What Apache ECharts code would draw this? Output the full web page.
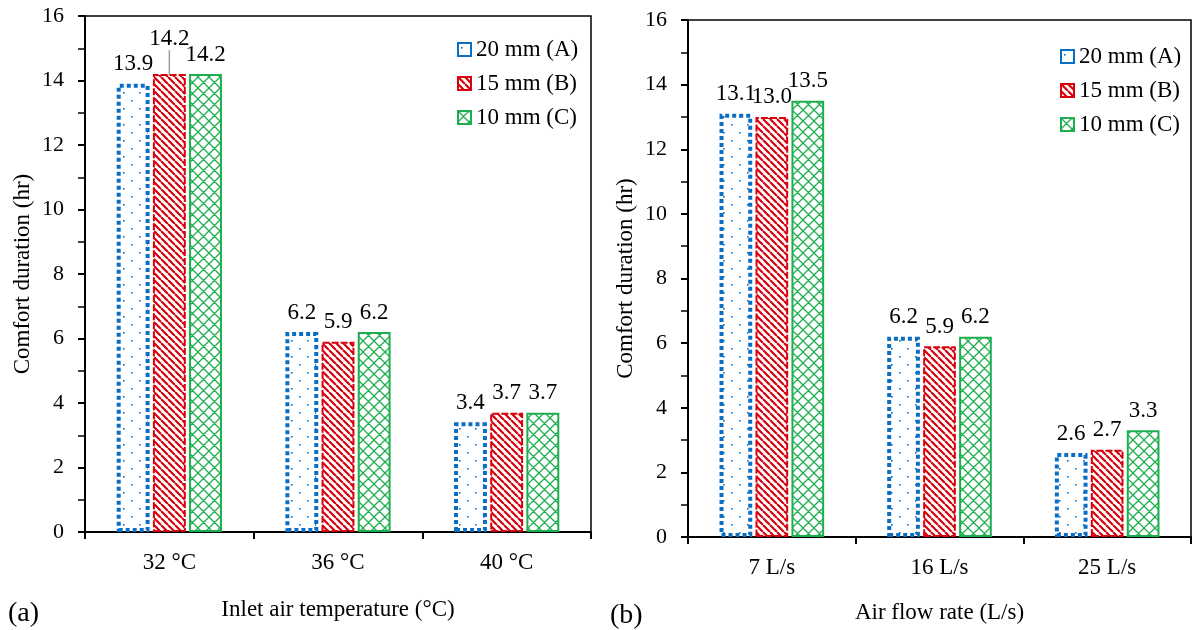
<!DOCTYPE html>
<html>
<head>
<meta charset="utf-8">
<script src="https://cdn.jsdelivr.net/npm/echarts@6/dist/echarts.min.js"></script>
<style>
  html, body { margin: 0; padding: 0; background: #fff; }
  #chart { width: 1195px; height: 630px; }
</style>
</head>
<body>
<div id="chart"></div>
<script>
// data
var tempCats = ['32 °C', '36 °C', '40 °C'];
var flowCats = ['7 L/s', '16 L/s', '25 L/s'];
var seriesNames = ['20 mm (A)', '15 mm (B)', '10 mm (C)'];
var tempA = [13.9, 6.2, 3.4];
var tempB = [14.2, 5.9, 3.7];
var tempC = [14.2, 6.2, 3.7];
var flowA = [13.1, 6.2, 2.6];
var flowB = [13.0, 5.9, 2.7];
var flowC = [13.5, 6.2, 3.3];

var FONT = '"Liberation Serif", "Times New Roman", serif';
var BLUE = '#0a6fc4', RED = '#d8000c', GREEN = '#1fae4f';

// fill patterns
function makeTile(size, draw) {
    var c = document.createElement('canvas');
    c.width = size; c.height = size;
    var ctx = c.getContext('2d');
    ctx.fillStyle = '#fff';
    ctx.fillRect(0, 0, size, size);
    draw(ctx, size);
    return c;
}
var dotTile = makeTile(16, function (ctx) {
    ctx.fillStyle = BLUE;
    ctx.fillRect(3, 4, 1.6, 1.6);
    ctx.fillRect(11, 12, 1.6, 1.6);
});
var hatchTile = makeTile(7, function (ctx, s) {
    ctx.strokeStyle = RED;
    ctx.lineWidth = 2.2;
    ctx.beginPath();
    for (var i = -s; i <= s; i += s) {
        ctx.moveTo(i, 0);
        ctx.lineTo(i + s, s);
    }
    ctx.stroke();
});
var crossTile = makeTile(11, function (ctx, s) {
    ctx.strokeStyle = GREEN;
    ctx.lineWidth = 1.3;
    ctx.beginPath();
    for (var i = -s; i <= s; i += s) {
        ctx.moveTo(i, 0); ctx.lineTo(i + s, s);
        ctx.moveTo(i + s, 0); ctx.lineTo(i, s);
    }
    ctx.stroke();
});

var styles = [
    { color: { image: dotTile, repeat: 'repeat' }, borderColor: BLUE, borderWidth: 4, borderType: [4, 3] },
    { color: { image: hatchTile, repeat: 'repeat' }, borderColor: RED, borderWidth: 2, borderType: [7, 2] },
    { color: { image: crossTile, repeat: 'repeat' }, borderColor: GREEN, borderWidth: 2, borderType: 'solid' }
];

function yAxis(gridIndex) {
    return {
        type: 'value', gridIndex: gridIndex, min: 0, max: 16, interval: 2,
        name: 'Comfort duration (hr)', nameLocation: 'middle', nameGap: 51,
        nameTextStyle: { fontFamily: FONT, fontSize: 23, color: '#000' },
        axisLine: { show: true, lineStyle: { color: '#000', width: 2 } },
        axisTick: { show: true, inside: false, length: 7, lineStyle: { color: '#000', width: 2 } },
        minorTick: { show: true, splitNumber: 2, length: 7, lineStyle: { color: '#000', width: 1.5 } },
        axisLabel: { margin: 21, fontFamily: FONT, fontSize: 22, color: '#000' },
        splitLine: { show: false }
    };
}
function xAxis(gridIndex, cats, name, gap) {
    return {
        type: 'category', gridIndex: gridIndex, data: cats,
        name: name, nameLocation: 'middle', nameGap: gap,
        nameTextStyle: { fontFamily: FONT, fontSize: 23, color: '#000' },
        axisLine: { lineStyle: { color: '#000', width: 2 } },
        axisTick: { show: true, length: 7, lineStyle: { color: '#000', width: 2 } },
        axisLabel: { margin: 19, fontFamily: FONT, fontSize: 23, color: '#000' }
    };
}
function barSeries(name, data, idx, gridIdx) {
    return {
        name: name, type: 'bar', xAxisIndex: gridIdx, yAxisIndex: gridIdx,
        data: data, barWidth: '19.5%', barGap: '10%',
        itemStyle: styles[idx],
        label: {
            show: true, position: 'top', distance: 8,
            fontFamily: FONT, fontSize: 23, color: '#000',
            formatter: function (p) { return p.value.toFixed(1); }
        },
        labelLine: { show: false, lineStyle: { color: '#a0a0a0', width: 1.5 } }
    };
}
function legend(left, top) {
    return {
        orient: 'vertical', left: left, top: top, itemGap: 11,
        itemWidth: 13, itemHeight: 13, icon: 'rect',
        textStyle: { fontFamily: FONT, fontSize: 23, color: '#000' },
        data: seriesNames
    };
}

// raised label with leader line on the 15 mm bar at 32 °C
var tempBData = tempB.map(function (v, i) {
    if (i === 0) {
        return { value: v, labelLine: { show: true } };
    }
    return v;
});

var myChart = echarts.init(document.getElementById('chart'));
var option = {
    backgroundColor: '#fff',
    animation: false,
    grid: [
        { left: 85, top: 16, width: 506, height: 516, show: true, borderColor: '#000', borderWidth: 1.5, backgroundColor: 'transparent' },
        { left: 688, top: 20, width: 503, height: 517, show: true, borderColor: '#000', borderWidth: 1.5, backgroundColor: 'transparent' }
    ],
    xAxis: [
        xAxis(0, tempCats, 'Inlet air temperature (°C)', 66),
        xAxis(1, flowCats, 'Air flow rate (L/s)', 64)
    ],
    yAxis: [yAxis(0), yAxis(1)],
    legend: [legend(452, 33), legend(1055, 40)],
    labelLayout: function (p) {
        if (p.seriesIndex === 1 && p.dataIndex === 0) {
            return { dy: -16 };
        }
    },
    graphic: [
        { type: 'text', left: 8, top: 600, style: { text: '(a)', font: '28px ' + FONT, fill: '#000' } },
        { type: 'text', left: 610, top: 602, style: { text: '(b)', font: '28px ' + FONT, fill: '#000' } }
    ],
    series: [
        barSeries(seriesNames[0], tempA, 0, 0),
        barSeries(seriesNames[1], tempBData, 1, 0),
        barSeries(seriesNames[2], tempC, 2, 0),
        barSeries(seriesNames[0], flowA, 0, 1),
        barSeries(seriesNames[1], flowB, 1, 1),
        barSeries(seriesNames[2], flowC, 2, 1)
    ]
};
myChart.setOption(option);
</script>
</body>
</html>
